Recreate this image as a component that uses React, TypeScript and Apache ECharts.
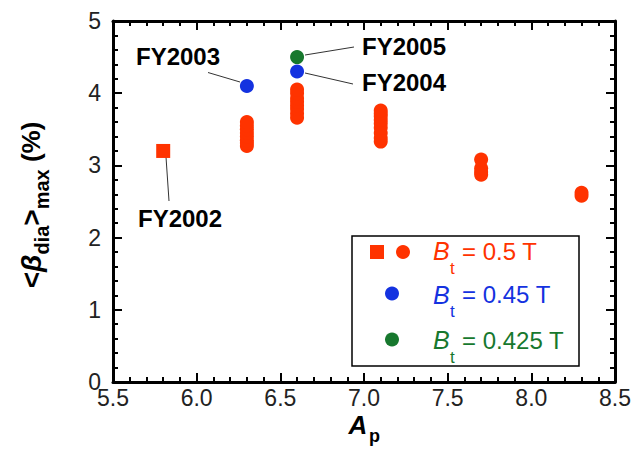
import React, { useEffect, useRef } from "react";
import * as echarts from "echarts";

// ---- data ----
const xTickValues = [5.5, 6.0, 6.5, 7.0, 7.5, 8.0, 8.5];
const yTickValues = [0, 1, 2, 3, 4, 5];

const squareAp = [5.8];
const squareBeta = [3.2];

const redAp = [6.3, 6.6, 7.1, 7.7, 8.3];
const red63 = [3.27, 3.31, 3.35, 3.4, 3.45, 3.5, 3.55, 3.6];
const red66 = [3.66, 3.72, 3.78, 3.83, 3.88, 3.93, 4.0, 4.05];
const red71 = [3.33, 3.38, 3.45, 3.52, 3.58, 3.63, 3.68, 3.72, 3.76];
const red77 = [2.87, 2.91, 2.96, 3.08];
const red83 = [2.58, 2.62];
const redClusters = [red63, red66, red71, red77, red83];

const blueAp = [6.3, 6.6];
const blueBeta = [4.1, 4.3];

const greenAp = [6.6];
const greenBeta = [4.5];

const fyLabels = ["FY2002", "FY2003", "FY2004", "FY2005"];
const legendLabels = ["= 0.5 T", "= 0.45 T", "= 0.425 T"];

const RED = "#ff3300";
const BLUE = "#1432e0";
const GREEN = "#17782e";
const FONT = "'Liberation Sans', Arial, Helvetica, sans-serif";

function makeAxis(kind: "x" | "y", position: string, withLabels: boolean) {
  const ticks = kind === "x" ? xTickValues : yTickValues;
  const range =
    kind === "x"
      ? { min: ticks[0], max: ticks[ticks.length - 1], interval: 0.5 }
      : { min: ticks[0], max: ticks[ticks.length - 1], interval: 1 };
  const mirrored = position === "top" || position === "right";
  return {
    type: "value",
    position,
    ...range,
    axisLine: mirrored
      ? { show: true, onZero: false, lineStyle: { color: "#000", width: 3 } }
      : { show: true, lineStyle: { color: "#000", width: 3 } },
    axisTick: { show: true, inside: true, length: 9, lineStyle: { color: "#000", width: 2 } },
    minorTick: { show: true, splitNumber: 5, length: 5, lineStyle: { color: "#000", width: 2 } },
    splitLine: { show: false },
    axisLabel: withLabels
      ? {
          show: true,
          fontFamily: FONT,
          fontSize: 23,
          color: "#222",
          margin: kind === "x" ? 4 : 12,
          formatter: (v: number) => (kind === "x" ? Number(v).toFixed(1) : String(v)),
        }
      : { show: false },
  };
}

export default function App() {
  const ref = useRef<HTMLDivElement>(null);

  useEffect(() => {
    if (!ref.current) return;
    const chart = echarts.init(ref.current, undefined, { renderer: "svg" });

    const redData: number[][] = [];
    redClusters.forEach((c, i) => c.forEach((v) => redData.push([redAp[i], v])));

    const lineStyle = { stroke: "#333", lineWidth: 1 };
    const fyStyle = { fontFamily: FONT, fontSize: 24, fontWeight: "bold", fill: "#000" };

    chart.setOption({
      animation: false,
      grid: { left: 113, right: 22, top: 21, bottom: 91 },
      xAxis: [makeAxis("x", "bottom", true), makeAxis("x", "top", false)],
      yAxis: [makeAxis("y", "left", true), makeAxis("y", "right", false)],
      series: [
        {
          type: "scatter",
          name: "square",
          symbol: "rect",
          symbolSize: 14,
          itemStyle: { color: RED, opacity: 1 },
          data: squareAp.map((x, i) => [x, squareBeta[i]]),
        },
        {
          type: "scatter",
          name: "red",
          symbol: "circle",
          symbolSize: 14,
          itemStyle: { color: RED, opacity: 1 },
          data: redData,
        },
        {
          type: "scatter",
          name: "blue",
          symbol: "circle",
          symbolSize: 14,
          itemStyle: { color: BLUE, opacity: 1 },
          data: blueAp.map((x, i) => [x, blueBeta[i]]),
        },
        {
          type: "scatter",
          name: "green",
          symbol: "circle",
          symbolSize: 14,
          itemStyle: { color: GREEN, opacity: 1 },
          data: greenAp.map((x, i) => [x, greenBeta[i]]),
        },
      ],
      graphic: [
        // annotation lines
        { type: "line", shape: { x1: 166, y1: 157, x2: 169, y2: 201 }, style: lineStyle },
        { type: "line", shape: { x1: 208, y1: 72.5, x2: 240, y2: 82 }, style: lineStyle },
        { type: "line", shape: { x1: 305, y1: 73, x2: 353, y2: 84 }, style: lineStyle },
        { type: "line", shape: { x1: 305, y1: 55, x2: 354, y2: 47 }, style: lineStyle },
        // annotation labels
        { type: "text", x: 138, y: 218, style: { ...fyStyle, text: fyLabels[0], align: "left", verticalAlign: "middle" } },
        { type: "text", x: 136, y: 56, style: { ...fyStyle, text: fyLabels[1], align: "left", verticalAlign: "middle" } },
        { type: "text", x: 362, y: 82, style: { ...fyStyle, text: fyLabels[2], align: "left", verticalAlign: "middle" } },
        { type: "text", x: 362, y: 46, style: { ...fyStyle, text: fyLabels[3], align: "left", verticalAlign: "middle" } },
        // legend box
        {
          type: "rect",
          shape: { x: 352, y: 236, width: 227, height: 130 },
          style: { fill: "#fff", stroke: "#000", lineWidth: 1.5 },
        },
        { type: "rect", shape: { x: 370, y: 245, width: 14, height: 14 }, style: { fill: RED } },
        { type: "circle", shape: { cx: 403, cy: 252, r: 7 }, style: { fill: RED } },
        { type: "circle", shape: { cx: 392, cy: 293.5, r: 7 }, style: { fill: BLUE } },
        { type: "circle", shape: { cx: 392, cy: 339.5, r: 7 }, style: { fill: GREEN } },
        ...[
          { y: 251, c: RED, t: legendLabels[0] },
          { y: 294.5, c: BLUE, t: legendLabels[1] },
          { y: 340, c: GREEN, t: legendLabels[2] },
        ].flatMap((r) => [
          {
            type: "text",
            x: 433,
            y: r.y,
            style: { text: "B", fontFamily: FONT, fontSize: 25, fontStyle: "italic", fill: r.c, align: "left", verticalAlign: "middle" },
          },
          {
            type: "text",
            x: 450,
            y: r.y + 17,
            style: { text: "t", fontFamily: FONT, fontSize: 17, fill: r.c, align: "left", verticalAlign: "middle" },
          },
          {
            type: "text",
            x: 462,
            y: r.y,
            style: { text: r.t, fontFamily: FONT, fontSize: 24, fill: r.c, align: "left", verticalAlign: "middle" },
          },
        ]),
        // x axis title
        {
          type: "text",
          x: 358,
          y: 425,
          style: { text: "A", fontFamily: FONT, fontSize: 26, fontWeight: "bold", fontStyle: "italic", fill: "#000", align: "center", verticalAlign: "middle" },
        },
        {
          type: "text",
          x: 369,
          y: 436,
          style: { text: "p", fontFamily: FONT, fontSize: 18, fontWeight: "bold", fill: "#000", align: "left", verticalAlign: "middle" },
        },
        // y axis title
        {
          type: "text",
          x: 31,
          y: 205,
          rotation: Math.PI / 2,
          style: {
            text: "{a|<}{b|β}{s|dia}{a|>}{s|max}{p| (%)}",
            align: "center",
            verticalAlign: "middle",
            fill: "#000",
            rich: {
              a: { fontFamily: FONT, fontSize: 28, fontWeight: "bold", lineHeight: 42, fill: "#000" },
              b: { fontFamily: FONT, fontSize: 28, fontWeight: "bold", fontStyle: "italic", lineHeight: 42, fill: "#000" },
              s: { fontFamily: FONT, fontSize: 20, fontWeight: "bold", lineHeight: 42, verticalAlign: "bottom", fill: "#000" },
              p: { fontFamily: FONT, fontSize: 26, fontWeight: "bold", lineHeight: 42, fill: "#000" },
            },
          },
        },
      ],
    });

    return () => chart.dispose();
  }, []);

  return (
    <div
      ref={ref}
      style={{ position: "fixed", left: 0, top: 0, width: 637, height: 473, background: "#fff" }}
    />
  );
}
